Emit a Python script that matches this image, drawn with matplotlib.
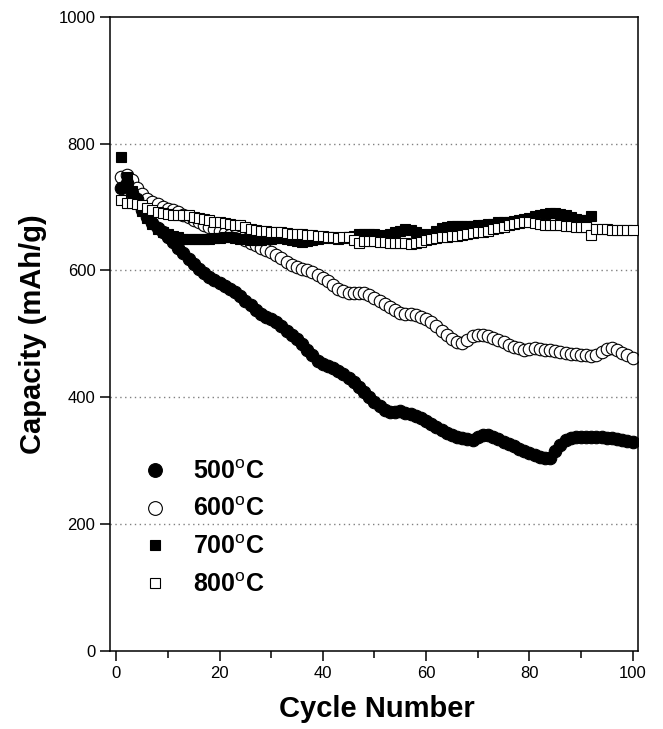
import matplotlib
matplotlib.use('Agg')
import matplotlib.pyplot as plt
from matplotlib.ticker import MultipleLocator

plt.rcParams['font.family'] = ['Liberation Sans', 'DejaVu Sans']
plt.rcParams['mathtext.fontset'] = 'custom'
plt.rcParams['mathtext.rm'] = 'Liberation Sans'
plt.rcParams['mathtext.bf'] = 'Liberation Sans:bold'

cycles = list(range(1, 101))

cap_500 = [730, 738, 722, 712, 695, 685, 675, 667, 660, 652,
           645, 636, 627, 618, 610, 603, 596, 590, 585, 580,
           576, 571, 566, 560, 552, 545, 538, 532, 527, 523,
           518, 512, 505, 498, 492, 484, 475, 466, 458, 452,
           450, 446, 441, 436, 431, 424, 416, 408, 400, 393,
           386, 380, 377, 377, 378, 376, 373, 370, 367, 363,
           358, 353, 348, 344, 341, 338, 336, 334, 333, 337,
           340, 341, 338, 334, 330, 326, 323, 319, 315, 312,
           309, 306, 304, 305, 315, 325, 332, 336, 337, 337,
           337, 338, 338, 337, 336, 336, 335, 333, 331, 330]

cap_600 = [748, 750, 742, 730, 720, 713, 708, 704, 700, 697,
           695, 692, 688, 684, 680, 676, 672, 669, 665, 662,
           659, 656, 654, 652, 648, 644, 640, 636, 633, 629,
           624, 619, 614, 609, 606, 603, 600, 597, 593, 588,
           583, 577, 571, 567, 565, 564, 565, 564, 561, 557,
           552, 547, 542, 537, 533, 531, 531, 530, 527, 523,
           518, 512, 505, 498, 492, 487, 485, 490, 496, 499,
           499, 496, 493, 490, 487, 483, 479, 477, 475, 476,
           477, 476, 475, 474, 473, 471, 470, 469, 468, 467,
           466, 465, 467, 472, 476, 477, 474, 470, 467, 462]

cycles_700 = list(range(1, 93))
cap_700 = [779, 748, 725, 708, 694, 682, 673, 666, 661, 657,
           654, 652, 650, 649, 649, 649, 650, 650, 651, 651,
           652, 652, 651, 650, 649, 648, 648, 648, 649, 650,
           651, 651, 650, 648, 646, 645, 646, 648, 650, 651,
           652, 651, 650, 651, 653, 655, 657, 658, 658, 657,
           656, 655, 657, 660, 663, 665, 664, 661, 658, 656,
           658, 663, 667, 669, 670, 670, 670, 670, 670, 671,
           672, 673, 674, 676, 677, 677, 678, 679, 681, 683,
           686, 688, 689, 690, 690, 689, 687, 684, 681, 679,
           680, 686]

cap_800 = [711, 707, 706, 705, 703, 699, 695, 692, 690, 689,
           688, 688, 688, 687, 685, 683, 681, 679, 677, 676,
           675, 674, 672, 671, 668, 665, 664, 663, 662, 661,
           660, 660, 659, 658, 657, 657, 656, 656, 655, 654,
           653, 652, 651, 652, 653, 648, 644, 646, 647, 646,
           645, 645, 644, 643, 643, 643, 642, 643, 645, 648,
           650, 651, 652, 653, 654, 655, 656, 658, 659, 660,
           661, 663, 665, 667, 669, 671, 673, 675, 676, 677,
           675, 673, 672, 672, 671, 671, 670, 670, 669, 669,
           668, 656, 665, 665, 665, 664, 664, 664, 664, 664]

labels = [r'500$^{\rm o}$C', r'600$^{\rm o}$C', r'700$^{\rm o}$C', r'800$^{\rm o}$C']

fig = plt.figure(figsize=(6.63, 7.29), dpi=100)
ax = fig.add_axes([0.166, 0.107, 0.796, 0.870])

ax.plot(cycles, cap_600, 'o', ms=9, mfc='white', mec='black', mew=0.8, label=labels[1], zorder=2)
ax.plot(cycles, cap_500, 'o', ms=9, mfc='black', mec='black', mew=0.8, label=labels[0], zorder=3)
ax.plot(cycles_700, cap_700, 's', ms=7, mfc='black', mec='black', mew=0.8, label=labels[2], zorder=4)
ax.plot(cycles, cap_800, 's', ms=7, mfc='white', mec='black', mew=0.8, label=labels[3], zorder=5)

ax.set_xlim(-1.2, 101)
ax.set_ylim(0, 1000)
ax.xaxis.set_major_locator(MultipleLocator(20))
ax.xaxis.set_minor_locator(MultipleLocator(10))
ax.yaxis.set_major_locator(MultipleLocator(200))
ax.tick_params(axis='both', which='major', direction='out', length=7, width=1.1, labelsize=12)
ax.tick_params(axis='x', which='minor', direction='out', length=5, width=1.1)
for s in ax.spines.values():
    s.set_linewidth(1.1)

for y in [200, 400, 600, 800]:
    ax.axhline(y, color='gray', linestyle=(0, (1, 2.5)), linewidth=1, zorder=1)

ax.set_xlabel('Cycle Number', fontsize=21, fontweight='bold')
ax.xaxis.set_label_coords(0.505, -0.07)
ax.set_ylabel('Capacity (mAh/g)', fontsize=21, fontweight='bold', labelpad=8)

handles, labs = ax.get_legend_handles_labels()
order = [1, 0, 2, 3]
ax.legend([handles[i] for i in order], [labs[i] for i in order],
          loc='lower left', bbox_to_anchor=(0.022, 0.05), frameon=False,
          prop={'weight': 'bold', 'size': 18}, handletextpad=1.05,
          labelspacing=0.55, markerscale=1.1, handlelength=0.9)

plt.savefig('out.png', dpi=100)
